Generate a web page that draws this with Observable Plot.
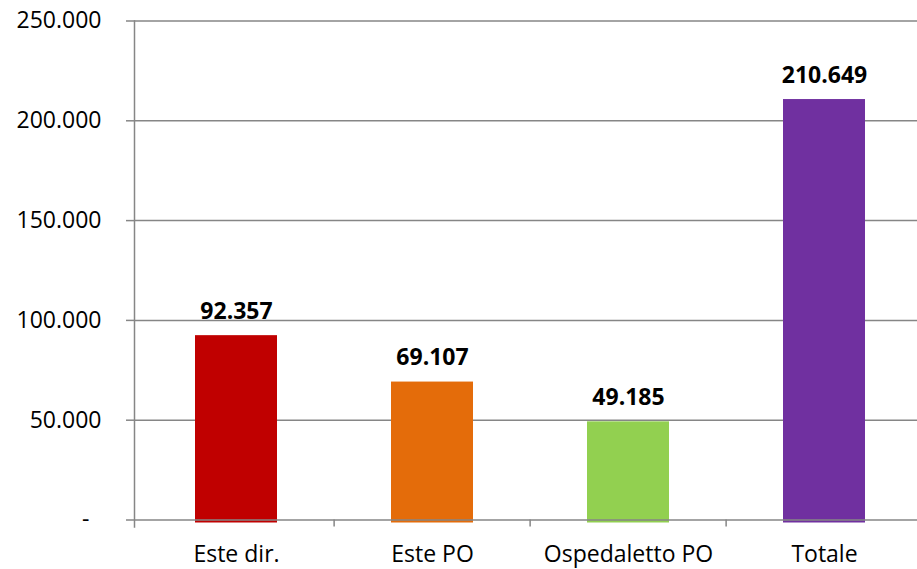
<!DOCTYPE html>
<html>
<head>
<meta charset="utf-8">
<script src="https://cdn.jsdelivr.net/npm/d3@7"></script>
<script src="https://cdn.jsdelivr.net/npm/@observablehq/plot@0.6"></script>
<style>
  html, body { margin: 0; padding: 0; background: #fff; overflow: hidden; }
</style>
</head>
<body>
<div id="chart"></div>
<script>
const categories = ["Este dir.", "Este PO", "Ospedaletto PO", "Totale"];
const values = [92357, 69107, 49185, 210649];
const colors = ["#C00000", "#E46C0A", "#92D050", "#7030A0"];
const yTicks = [50000, 100000, 150000, 200000, 250000];

const it = d3.formatLocale({decimal: ",", thousands: ".", grouping: [3], currency: ["€", ""]});
const fmt = it.format(",d");

const data = categories.map((c, i) => ({category: c, value: values[i]}));
const gray = "#868686";

const chart = Plot.plot({
  width: 917,
  height: 569,
  marginLeft: 134,
  marginRight: 0,
  marginTop: 20.5,
  marginBottom: 49.5,
  style: {fontFamily: "'Open Sans', sans-serif", fontSize: "23px", color: "#000", background: "#fff"},
  x: {domain: categories, range: [136, 923], paddingInner: 0.583, paddingOuter: 0.2915, label: null},
  y: {domain: [0, 250000], label: null},
  color: {domain: categories, range: colors},
  marks: [
    Plot.gridY(yTicks, {stroke: gray, strokeOpacity: 1, strokeWidth: 1.5}),
    Plot.axisY(yTicks, {tickSize: 8, tickPadding: 25, tickFormat: fmt, stroke: gray, strokeWidth: 1.5, fill: "#000", fontSize: 23, label: null}),
    Plot.axisY([0], {tickSize: 0, tickPadding: 45, tickFormat: () => "-", fill: "#000", fontSize: 23, label: null}),
    Plot.barY(data, {x: "category", y: "value", fill: "category", insetBottom: -3}),
    Plot.frame({anchor: "left", stroke: gray, strokeWidth: 1.5, insetBottom: -7}),
    Plot.ruleY([0], {stroke: gray, strokeWidth: 1.5, insetLeft: -8}),
    Plot.ruleX(categories.slice(1), {x: d => d, y1: 0, y2: 0, dx: -98.375, insetBottom: -7, stroke: gray, strokeWidth: 1.5}),
    Plot.text(data, {x: "category", y: "value", text: d => fmt(d.value), dy: -17, lineAnchor: "bottom", fontWeight: "bold", fontSize: 23, fill: "#000"}),
    Plot.axisX({tickSize: 0, tickPadding: 26, fontSize: 23, fill: "#000", label: null})
  ]
});

document.getElementById("chart").appendChild(chart);
</script>
</body>
</html>
